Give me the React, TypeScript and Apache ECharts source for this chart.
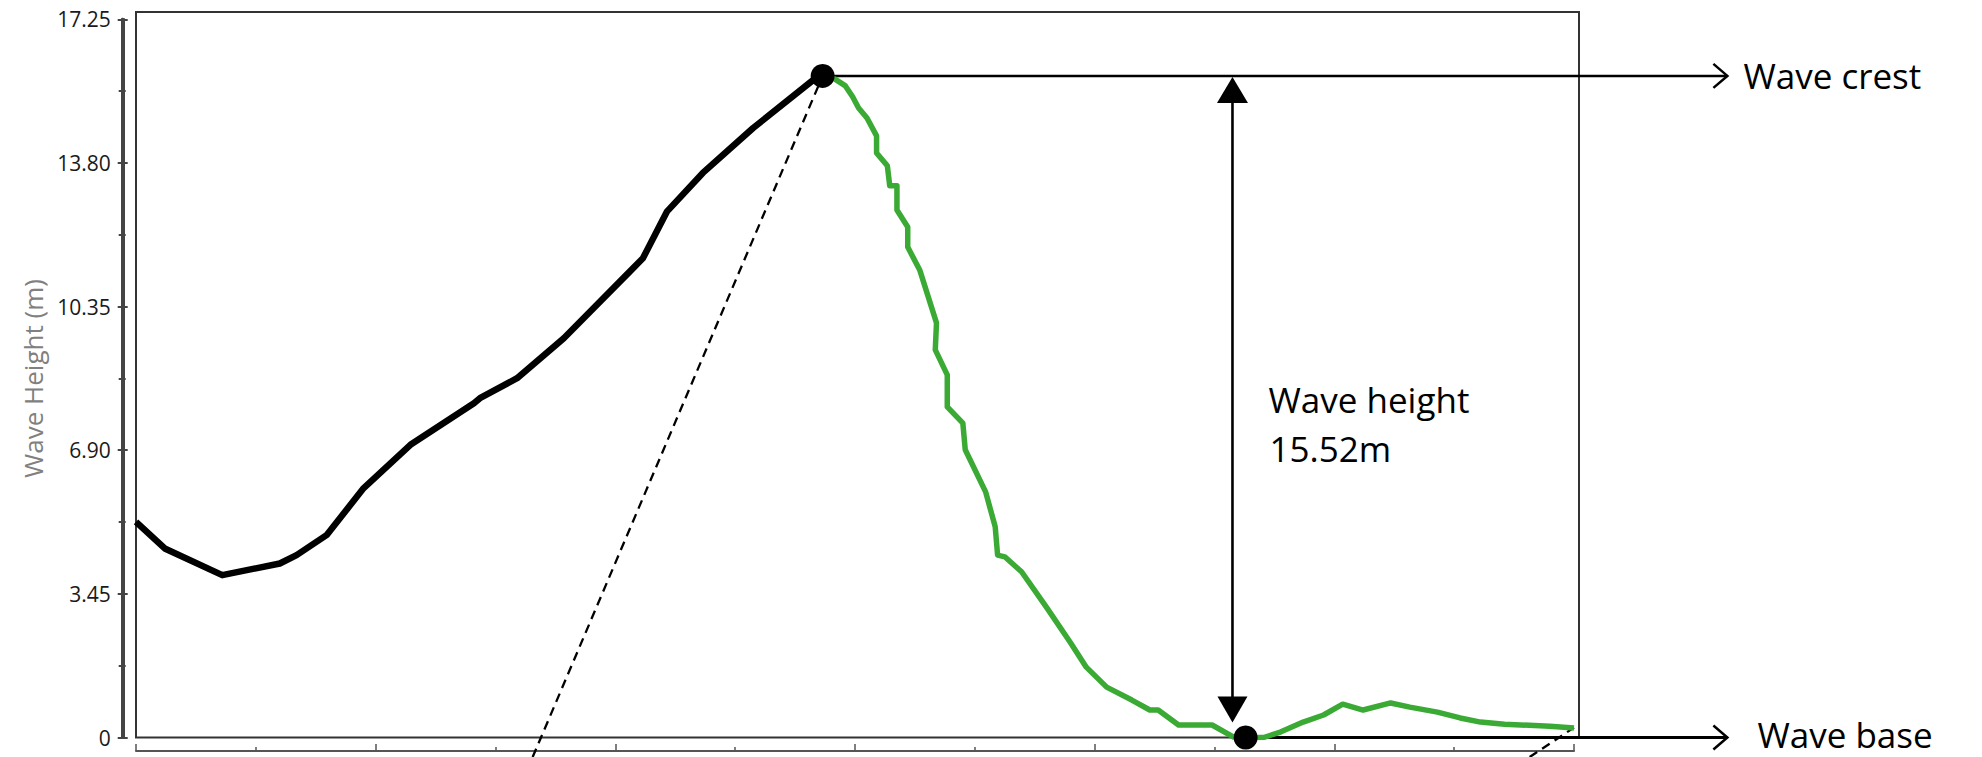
import React, { useEffect, useRef } from "react";
import * as echarts from "echarts";

// ---------- data ----------
const Y_MIN = 0;
const Y_MAX = 17.25;
const Y_INTERVAL = 3.45;
const Y_TICK_LABELS: Record<string, string> = {
  "0": "0",
  "3.45": "3.45",
  "6.9": "6.90",
  "10.35": "10.35",
  "13.8": "13.80",
  "17.25": "17.25",
};
const X_MIN = 0;
const X_MAX = 12;
const X_INTERVAL = 2;

// rising limb (black)
const risingX = [0, 0.24, 0.72, 1.2, 1.34, 1.59, 1.9, 2.29, 2.82, 2.87, 3.18, 3.57, 4.12, 4.23, 4.43, 4.73, 5.15, 5.65, 5.73];
const risingY = [5.18, 4.54, 3.9, 4.18, 4.38, 4.86, 5.99, 7.03, 8.03, 8.15, 8.63, 9.59, 11.19, 11.51, 12.63, 13.56, 14.64, 15.79, 15.89];

// falling limb (green)
const fallingX = [5.73, 5.83, 5.92, 5.98, 6.03, 6.1, 6.18, 6.18, 6.27, 6.29, 6.35, 6.35, 6.44, 6.44, 6.54, 6.68, 6.67, 6.77, 6.77, 6.9, 6.92, 7.09, 7.17, 7.19, 7.25, 7.39, 7.6, 7.8, 7.93, 8.1, 8.31, 8.46, 8.53, 8.7, 8.98, 9.16, 9.26, 9.41, 9.55, 9.74, 9.91, 10.07, 10.24, 10.47, 10.63, 10.86, 11.05, 11.22, 11.42, 11.8, 12.0];
const fallingY = [15.89, 15.82, 15.65, 15.39, 15.12, 14.88, 14.45, 14.04, 13.73, 13.25, 13.25, 12.67, 12.26, 11.78, 11.23, 9.96, 9.31, 8.71, 7.94, 7.55, 6.91, 5.9, 5.06, 4.38, 4.34, 3.98, 3.12, 2.27, 1.69, 1.21, 0.9, 0.66, 0.66, 0.3, 0.3, 0.01, 0, 0, 0.13, 0.37, 0.54, 0.8, 0.66, 0.83, 0.73, 0.61, 0.47, 0.37, 0.32, 0.27, 0.23];

// dashed guide lines
const leftDashX = [3.31, 5.73];
const leftDashY = [-0.47, 15.89];
const rightDashX = [11.63, 12.0];
const rightDashY = [-0.47, 0.24];

// key points
const crestPoint = [5.73, 15.89];
const basePoint = [9.26, 0];
const heightArrowX = 9.15;
const labelArrowEndX = 13.28;

const crestLabel = "Wave crest";
const baseLabel = "Wave base";
const heightLabel = "Wave height";
const heightValueLabel = "15.52m";
const yAxisName = "Wave Height (m)";

// ---------- layout ----------
const W = 1982;
const H = 757;
const GRID_LEFT = 136;
const GRID_RIGHT_PX = 1574;
const GRID_TOP = 19.3;
const GRID_BOTTOM_PX = 737.5;
const Y_AXIS_OFFSET = 13.3;

const zip = (xs: number[], ys: number[]) => xs.map((x, i) => [x, ys[i]]);

export default function App() {
  const ref = useRef<HTMLDivElement>(null);

  useEffect(() => {
    const chart = echarts.init(ref.current!, null, { renderer: "svg" });
    const axisColor = "#444444";
    const font = "Open Sans";

    const yAxisBase = {
      type: "value",
      min: Y_MIN,
      max: Y_MAX,
      interval: Y_INTERVAL,
      position: "left",
      offset: Y_AXIS_OFFSET,
      splitLine: { show: false },
      axisLine: { show: true, onZero: false, lineStyle: { color: axisColor, width: 3 } },
    };

    chart.setOption({
      animation: false,
      backgroundColor: "#ffffff",
      grid: {
        left: GRID_LEFT,
        right: W - GRID_RIGHT_PX,
        top: GRID_TOP,
        bottom: H - GRID_BOTTOM_PX,
        containLabel: false,
      },
      xAxis: {
        type: "value",
        min: X_MIN,
        max: X_MAX,
        interval: X_INTERVAL,
        position: "bottom",
        offset: 751 - GRID_BOTTOM_PX,
        axisLine: { show: true, onZero: false, lineStyle: { color: "#555", width: 2 } },
        axisTick: { show: true, inside: true, length: 7, lineStyle: { color: "#555", width: 1.5 } },
        minorTick: { show: true, splitNumber: 2, length: 4, lineStyle: { color: "#555", width: 1.5 } },
        axisLabel: { show: false },
        splitLine: { show: false },
      },
      yAxis: [
        {
          ...yAxisBase,
          name: yAxisName,
          nameLocation: "middle",
          nameGap: 67,
          nameTextStyle: { fontSize: 26, color: "#808080", fontFamily: font },
          axisTick: { show: true, inside: false, length: 5, lineStyle: { color: axisColor, width: 2 } },
          minorTick: { show: true, splitNumber: 2, length: 4, lineStyle: { color: axisColor, width: 2 } },
          axisLabel: {
            show: true,
            margin: 12,
            fontSize: 21,
            fontFamily: font,
            color: "#1a1a1a",
            formatter: (v: number) => Y_TICK_LABELS[String(v)] ?? String(v),
          },
        },
        {
          ...yAxisBase,
          axisTick: { show: true, inside: true, length: 5, lineStyle: { color: axisColor, width: 2 } },
          minorTick: { show: true, splitNumber: 2, length: 3, lineStyle: { color: axisColor, width: 2 } },
          axisLabel: { show: false },
        },
      ],
      series: [
        {
          name: "rising",
          type: "line",
          data: zip(risingX, risingY),
          showSymbol: false,
          lineStyle: { color: "#000", width: 6.5, join: "round" },
          z: 3,
        },
        {
          name: "falling",
          type: "line",
          data: zip(fallingX, fallingY),
          showSymbol: false,
          lineStyle: { color: "#3aaa35", width: 5.5, join: "round" },
          z: 3,
        },
        {
          name: "leftDash",
          type: "line",
          data: zip(leftDashX, leftDashY),
          showSymbol: false,
          clip: false,
          lineStyle: { color: "#000", width: 2.3, type: [9, 6] },
          z: 2,
        },
        {
          name: "rightDash",
          type: "line",
          data: zip(rightDashX, rightDashY),
          showSymbol: false,
          clip: false,
          lineStyle: { color: "#000", width: 2.3, type: [9, 6] },
          z: 2,
        },
        {
          name: "points",
          type: "scatter",
          data: [crestPoint, basePoint],
          symbol: "circle",
          symbolSize: 24,
          clip: false,
          itemStyle: { color: "#000", opacity: 1 },
          z: 5,
        },
      ],
    });

    const px = (p: number[]) => chart.convertToPixel({ gridIndex: 0 }, p) as number[];
    const crest = px(crestPoint);
    const base = px(basePoint);
    const endX = px([labelArrowEndX, 0])[0];
    const ax = px([heightArrowX, 0])[0];
    const yAxisTop = px([X_MIN, Y_MAX]);
    const yAxisBottom = px([X_MIN, Y_MIN]);
    const cy = crest[1];
    const by = base[1];
    const mid = (cy + by) / 2;
    const stroke = "#000";
    const yLineX = Math.round(yAxisTop[0] - Y_AXIS_OFFSET) + 0.5;

    const chevron = (x: number, y: number) => ({
      type: "polyline",
      shape: { points: [[x - 14, y - 12], [x, y], [x - 14, y + 12]] },
      style: { stroke, lineWidth: 2.5, fill: "none" },
      z: 1,
      silent: true,
    });

    const textStyle = (text: string) => ({
      text,
      fontSize: 35,
      lineHeight: 36,
      fontFamily: font,
      fill: "#000",
      align: "left",
      verticalAlign: "middle",
    });

    chart.setOption({
      graphic: [
        {
          type: "rect",
          shape: { x: GRID_LEFT, y: 12, width: 1579 - GRID_LEFT, height: GRID_BOTTOM_PX - 12 },
          style: { fill: "none", stroke: "#333", lineWidth: 2 },
          z: 0,
          silent: true,
        },
        {
          type: "rect",
          shape: {
            x: yLineX - 1.5,
            y: yAxisTop[1] - 1,
            width: 3,
            height: yAxisBottom[1] - yAxisTop[1] + 2,
          },
          style: { fill: axisColor },
          z: 20,
          silent: true,
        },
        {
          type: "line",
          shape: { x1: crest[0], y1: cy, x2: endX, y2: cy },
          style: { stroke, lineWidth: 2.5 },
          z: 1,
          silent: true,
        },
        chevron(endX, cy),
        {
          type: "line",
          shape: { x1: base[0], y1: by, x2: endX, y2: by },
          style: { stroke, lineWidth: 3 },
          z: 1,
          silent: true,
        },
        chevron(endX, by),
        {
          type: "line",
          shape: { x1: ax, y1: cy + 20, x2: ax, y2: by - 30 },
          style: { stroke, lineWidth: 2.6 },
          z: 1,
          silent: true,
        },
        {
          type: "polygon",
          shape: { points: [[ax, cy + 1], [ax - 15.5, cy + 27], [ax + 15.5, cy + 27]] },
          style: { fill: stroke },
          z: 1,
          silent: true,
        },
        {
          type: "polygon",
          shape: { points: [[ax, by - 15], [ax - 15, by - 41], [ax + 15, by - 41]] },
          style: { fill: stroke },
          z: 1,
          silent: true,
        },
        { type: "text", x: endX + 16, y: cy, style: textStyle(crestLabel), z: 10, silent: true },
        { type: "text", x: endX + 30, y: by - 3, style: textStyle(baseLabel), z: 10, silent: true },
        { type: "text", x: ax + 36, y: mid - 7, style: textStyle(heightLabel), z: 10, silent: true },
        { type: "text", x: ax + 37, y: mid + 42, style: textStyle(heightValueLabel), z: 10, silent: true },
      ],
    });

    return () => chart.dispose();
  }, []);

  return (
    <div
      ref={ref}
      style={{ position: "absolute", left: 0, top: 0, width: W, height: H }}
    />
  );
}
